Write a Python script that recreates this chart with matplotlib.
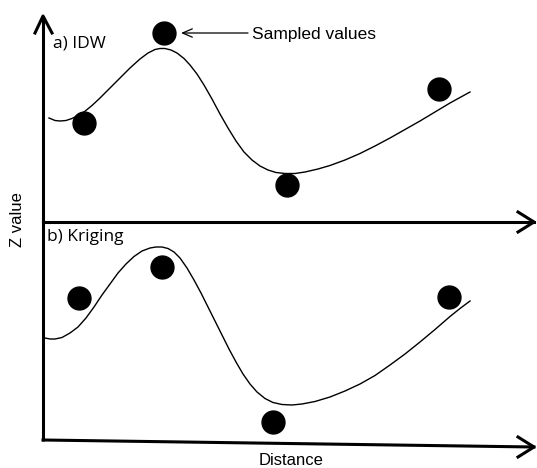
import matplotlib.pyplot as plt

# sampled values (distance, z) for each panel
idw_dist = [41, 121, 244, 396]
idw_z = [99, 189, 37, 133]
krig_dist = [36, 119, 230, 406]
krig_z = [150, 181, 26, 151]

# interpolated surfaces
idw_curve_x = [6, 12, 17, 23, 29, 35, 41, 49, 57, 67, 77, 87, 97, 105, 112, 117,
               122, 128, 134, 141, 147, 154, 161, 169, 177, 185, 193, 201, 209,
               217, 225, 233, 242, 252, 262, 275, 287, 302, 317, 332, 347, 362,
               377, 392, 407, 417, 427]
idw_curve_z = [104, 101.5, 101, 101.5, 103.5, 106.5, 110, 116.5, 124, 134, 144,
               154, 163, 169, 172.5, 173.5, 173.5, 172, 169, 163.5, 157, 148,
               137, 123, 108, 94, 81, 70, 62, 56, 52, 49.5, 48.5, 48.5, 50,
               53, 56.5, 62, 68.5, 76, 84, 92.5, 101, 110, 119, 124.5, 130]
krig_curve_x = [2, 7, 12, 19, 27, 35, 43, 51, 59, 67, 75, 83, 91, 99, 107, 113,
                119, 125, 131, 137, 144, 151, 158, 165, 172, 179, 186, 193, 200,
                207, 214, 222, 230, 239, 249, 259, 272, 287, 302, 317, 332, 347,
                362, 377, 392, 407, 417, 427]
krig_curve_z = [110, 109, 109, 110.5, 115, 121, 130, 141, 153, 164, 175, 184,
                191.5, 197, 200, 201, 201, 199.5, 196, 190, 180, 168, 155, 141,
                127, 113, 99, 86, 74, 64, 56, 49.5, 45.5, 43.5, 43, 44, 46.5,
                51, 57, 64, 72.5, 83, 94, 106, 118.5, 131.5, 139.5, 147]

W, H = 537, 468
fig = plt.figure(figsize=(W / 100, H / 100), dpi=100)

# overlay in pixel coordinates for axes arrows and labels
ov = fig.add_axes([0, 0, 1, 1])
ov.set_xlim(0, W)
ov.set_ylim(H, 0)
ov.axis("off")

ax_lw = 2.2
ov.plot([43, 43], [441, 16], color="black", lw=ax_lw, solid_capstyle="butt")
ov.plot([35, 43, 52], [33, 16, 33], color="black", lw=ax_lw)
ov.plot([43, 534], [222, 222], color="black", lw=ax_lw)
ov.plot([518, 534, 518], [212, 222, 232], color="black", lw=ax_lw)
ov.plot([43, 534], [440, 447], color="black", lw=ax_lw)
ov.plot([518, 534, 518], [437, 447, 457], color="black", lw=ax_lw)

ov.text(53, 48, "a) IDW", fontsize=12.5, family="Open Sans", va="baseline")
ov.text(47, 241, "b) Kriging", fontsize=12.5, family="Open Sans", va="baseline")
ov.text(252, 39, "Sampled values", fontsize=12.5, family="Liberation Sans", va="baseline")
ov.annotate("", xy=(181, 33), xytext=(248, 33),
            arrowprops=dict(arrowstyle="->,head_length=0.7,head_width=0.3",
                            lw=0.9, color="black", shrinkA=0, shrinkB=0))
ov.text(291, 465, "Distance", fontsize=12, family="Liberation Sans",
        ha="center", va="baseline")
ov.text(18, 220, "Z value", fontsize=12, family="Liberation Sans",
        rotation=90, ha="center", va="center")

# data panels
top = fig.add_axes([43 / W, (H - 222) / H, 492 / W, 207 / H])
bot = fig.add_axes([43 / W, (H - 448) / H, 492 / W, 226 / H])
for ax in (top, bot):
    ax.set_xlim(0, 492)
    ax.axis("off")
    ax.patch.set_alpha(0)
top.set_ylim(0, 207)
bot.set_ylim(0, 226)

top.plot(idw_curve_x, idw_curve_z, color="black", lw=1.0, solid_joinstyle="round")
top.plot(idw_dist, idw_z, "o", color="black", ms=16.5)
bot.plot(krig_curve_x, krig_curve_z, color="black", lw=1.0, solid_joinstyle="round")
bot.plot(krig_dist, krig_z, "o", color="black", ms=16.5)

fig.savefig("out.png", dpi=100)
